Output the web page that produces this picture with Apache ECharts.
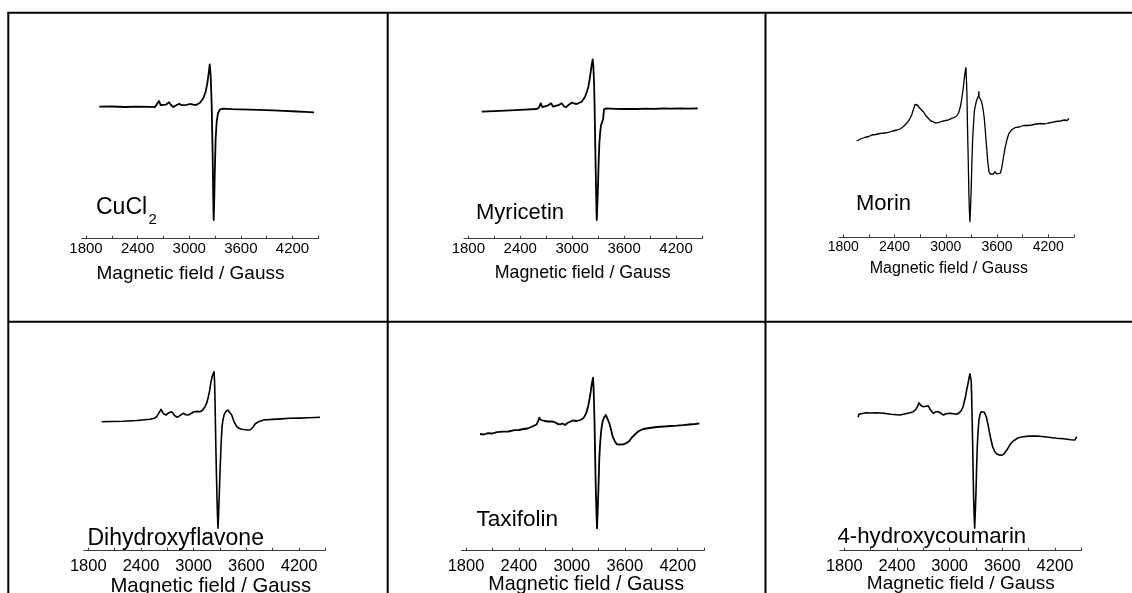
<!DOCTYPE html>
<html>
<head>
<meta charset="utf-8">
<title>EPR spectra of Cu(II) complexes</title>
<script src="https://cdn.jsdelivr.net/npm/echarts@6/dist/echarts.min.js"></script>
<style>
  html, body { margin: 0; padding: 0; background: #fff; }
  #chart { width: 1132px; height: 593px; }
</style>
</head>
<body>
<div id="chart"></div>
<script>
// Sample names, in panel order (left to right, top row first)
const sampleNames = ['CuCl2', 'Myricetin', 'Morin', 'Dihydroxyflavone', 'Taxifolin', '4-hydroxycoumarin'];

// Axis ticks (magnetic field, Gauss)
const tickLabels = [1800, 2400, 3000, 3600, 4200];
const tickMarks = [1800, 2100, 2400, 2700, 3000, 3300, 3600, 3900, 4200, 4500];
const axisTitle = 'Magnetic field / Gauss';

// First-derivative EPR spectra: [field (G), intensity (a.u.)]
const cucl2 = [
  [1955,0],[2100,0.2],[2250,-0.3],[2400,0],[2550,-0.2],[2602,-0.3],[2625,1.5],[2648,5.7],[2668,1.5],
  [2691,-0.3],[2728,2],[2765,4.4],[2790,1.5],[2815,-0.3],[2850,1.5],[2884,3],[2910,1.5],[2931,0.4],
  [2970,1.8],[3009,2.7],[3045,2],[3079,1.7],[3125,4],[3163,8.4],[3191,15],[3210,23.4],[3226,33.4],
  [3238,42.4],[3249,31.7],[3261,1.7],[3272,-48.3],[3279,-91.6],[3284,-113.3],[3291,-91.6],[3299,-58.3],
  [3307,-31.6],[3319,-15],[3334,-6.6],[3357,-2.6],[3396,-2],[3500,-2.5],[3590,-2.6],[3700,-3],
  [3800,-3.2],[3977,-3.6],[4100,-4.2],[4250,-4.8],[4350,-5.2],[4450,-5.6]
];

const myricetin = [
  [1955,0],[2100,0.5],[2282,1.4],[2450,2],[2590,2.7],[2615,4],[2637,8.4],[2655,4.5],[2675,3.4],
  [2715,6],[2756,8.4],[2780,5],[2802,4],[2840,6.5],[2879,8.4],[2905,5.5],[2929,4.4],[2960,7],
  [2995,9],[3025,8.2],[3053,7.7],[3085,9],[3110,10],[3130,12],[3149,15],[3170,20],[3187,25],
  [3203,33],[3214,40],[3226,47],[3237,52.4],[3245,45],[3253,28.4],[3259,5],[3264,-21.6],[3270,-50],
  [3276,-78.3],[3281,-100],[3284,-108.3],[3289,-98],[3294,-85],[3299,-71.6],[3306,-50],[3314,-31.6],
  [3324,-20],[3334,-13.3],[3345,-10.5],[3358,-7],[3364,-1],[3368,2.4],[3399,3.4],[3500,2.9],
  [3600,2.7],[3746,2.7],[3850,3],[3950,2.8],[4050,3.2],[4131,3],[4250,3.3],[4350,3.1],[4451,3.4]
];

const morin = [
  [1957,-1],[1962,0],[2000,1],[2050,2.5],[2100,3.5],[2132,5],[2180,5.5],[2230,6.5],[2280,7],
  [2327,7.7],[2380,9],[2430,10],[2464,11],[2505,13.5],[2542,16.7],[2575,20.5],[2601,25],[2615,29],
  [2628,32.3],[2640,35.5],[2651,36.7],[2665,35],[2686,33.3],[2705,31],[2720,29.5],[2737,28.3],
  [2765,24.5],[2795,21.7],[2825,19],[2854,18.3],[2880,17],[2912,17.3],[2950,18.5],[2991,19.3],
  [3030,20],[3069,21.7],[3100,22.5],[3128,24],[3150,27],[3166,31.7],[3180,37],[3193,45],[3205,52],
  [3217,61.7],[3228,69],[3236,72.3],[3242,60],[3248,45],[3254,15],[3260,-8.3],[3266,-33],[3271,-55],
  [3277,-72],[3283,-81.7],[3290,-68],[3298,-48.3],[3306,-22],[3315,1.7],[3324,15],[3334,28.3],
  [3348,35],[3362,40],[3375,42],[3383,44],[3387,48.3],[3391,43],[3400,41.5],[3420,38.3],[3436,31],
  [3451,21.7],[3465,7],[3479,-8.3],[3492,-22],[3506,-31.7],[3520,-34],[3537,-35],[3560,-34],
  [3573,-31.7],[3584,-32.5],[3600,-34],[3623,-35],[3640,-33],[3654,-28.3],[3672,-19],[3693,-8.3],
  [3715,0],[3740,6.7],[3775,10.5],[3810,12.3],[3860,13],[3910,14.5],[3960,14.5],[4006,15],
  [4060,16],[4110,16.5],[4160,16],[4200,17],[4240,17.7],[4290,18.5],[4340,19],[4390,20],[4420,19.5],
  [4442,21.7]
];

const dihydroxyflavone = [
  [1953,0],[2050,0.2],[2199,0.4],[2350,1.2],[2503,2.4],[2550,3.5],[2579,5],[2600,8],[2628,12.4],
  [2655,8],[2685,6.7],[2718,9],[2750,10],[2785,6],[2814,4.4],[2850,6.5],[2882,8.4],[2910,7],
  [2939,6.7],[2975,8.5],[3004,10],[3040,10.3],[3072,10],[3100,11.5],[3129,15],[3150,19],[3167,25],
  [3182,31],[3197,40],[3215,46.5],[3232,50],[3238,40],[3243,21.7],[3248,-3],[3254,-31.6],[3260,-55],
  [3266,-78.3],[3272,-95],[3277,-106.6],[3284,-92],[3292,-71.6],[3300,-50],[3308,-31.6],[3315,-17],
  [3323,-5],[3334,2],[3346,6.7],[3365,10],[3388,11.7],[3410,10],[3433,6.7],[3460,0],[3490,-5],
  [3520,-6.8],[3547,-7.6],[3590,-8],[3622,-8.3],[3645,-8],[3661,-7.6],[3680,-5],[3699,-2.3],
  [3740,0],[3793,1.7],[3900,2.3],[4000,2.8],[4097,3.4],[4200,3.6],[4300,3.9],[4380,4.2],[4439,4.4]
];

const taxifolin = [
  [1959,0],[2000,-0.5],[2050,0.8],[2100,0.5],[2150,1.8],[2223,2.3],[2280,2.5],[2350,3.8],[2400,4],
  [2450,5],[2500,5.5],[2563,8],[2600,9.5],[2618,13],[2631,16.3],[2650,14],[2670,14],[2690,13],
  [2707,15],[2730,12.5],[2752,11.7],[2780,12.5],[2809,11.7],[2840,10],[2866,9.7],[2895,10.5],
  [2922,9],[2950,11],[2971,13],[3010,13.5],[3055,13],[3095,14],[3130,15.7],[3150,18.5],[3168,22.3],
  [3185,28],[3198,34],[3210,40],[3221,47.3],[3232,53],[3240,56.3],[3246,46],[3251,32.3],[3257,10],
  [3263,-17.7],[3268,-42],[3274,-64.3],[3280,-82],[3285,-94.3],[3292,-78],[3300,-57.7],[3306,-40],
  [3311,-24.3],[3320,-10],[3331,2.3],[3340,8],[3350,13],[3365,16.5],[3384,19],[3400,16],[3425,10.7],
  [3445,4],[3463,-2.7],[3485,-7],[3509,-10.3],[3540,-10.5],[3583,-10.3],[3620,-9],[3651,-7],
  [3680,-3.5],[3716,-0.3],[3760,3],[3810,5],[3880,6],[3962,7],[4050,7.5],[4120,8],[4189,8.3],
  [4260,8.8],[4330,9.5],[4400,10],[4445,10.7]
];

const hydroxycoumarin = [
  [1959,-4],[1965,-1],[1979,0],[2050,0.5],[2100,0.3],[2169,0.6],[2250,0],[2330,-1],[2434,-1.7],
  [2500,-0.5],[2550,0.5],[2586,1.6],[2615,4],[2635,7],[2651,10.6],[2670,8],[2700,6.6],[2730,7],
  [2757,7.3],[2785,3],[2814,0],[2840,1.5],[2871,1.6],[2900,0],[2928,-1.7],[2960,-0.5],[3004,0],
  [3040,-0.5],[3080,-1],[3110,0.5],[3137,3.3],[3155,7],[3167,11.6],[3180,16],[3194,23.3],[3208,29],
  [3220,35],[3232,39.5],[3240,40.6],[3246,32],[3251,16.6],[3257,-8],[3263,-33.4],[3268,-60],
  [3274,-86.7],[3280,-103],[3285,-115],[3292,-100],[3300,-80],[3307,-56],[3315,-33.4],[3324,-18],
  [3334,-6.7],[3345,-1.5],[3360,1.5],[3377,2.6],[3395,1],[3410,-2],[3422,-5],[3437,-11],[3452,-18.4],
  [3470,-26],[3490,-33.4],[3512,-38],[3536,-40.7],[3570,-41.8],[3604,-41.7],[3630,-39.5],[3657,-36],
  [3690,-31],[3725,-27.7],[3780,-24.5],[3839,-23.4],[3900,-22.8],[3992,-22.7],[4080,-23.5],
  [4150,-24.2],[4219,-25],[4300,-25.5],[4380,-26.4],[4428,-26.7],[4440,-25.5],[4447,-23.4]
];

const spectra = [cucl2, myricetin, morin, dihydroxyflavone, taxifolin, hydroxycoumarin];

// Panel placement inside the 2 x 3 table
const FIELD_MIN = 1750, FIELD_MAX = 4500, PLOT_H = 220;
const panels = [
  { left: 81.7,  width: 236.6, axisY: 238.7, yMin: -132,   tick: 15,   gap: 3,   tx: 190.5, ty: 273.3, ts: 19,   lx: 96,  ly: 207.5, ls: 23, lw: 1.8 },
  { left: 464.0, width: 238.0, axisY: 238.7, yMin: -127,   tick: 15,   gap: 3,   tx: 582.7, ty: 273.0, ts: 17.8, lx: 476, ly: 212.8, ls: 22, lw: 1.8 },
  { left: 839.0, width: 234.9, axisY: 237.3, yMin: -97.3,  tick: 14,   gap: 2.4, tx: 948.8, ty: 268.3, ts: 16,   lx: 856, ly: 204.3, ls: 22, lw: 1.3 },
  { left: 83.9,  width: 241.5, axisY: 550.7, yMin: -129,   tick: 16.5, gap: 7.5, tx: 210.8, ty: 586.5, ts: 20.3, lx: 87.5, ly: 538.3, ls: 23, lw: 1.6 },
  { left: 461.6, width: 242.6, axisY: 550.7, yMin: -116.7, tick: 16.5, gap: 7.5, tx: 586.2, ty: 584.5, ts: 19.8, lx: 476.5, ly: 519.7, ls: 22.6, lw: 1.8 },
  { left: 839.9, width: 241.4, axisY: 550.7, yMin: -137.4, tick: 16.5, gap: 7.5, tx: 960.8, ty: 583.5, ts: 19,   lx: 837.5, ly: 537.2, ls: 22.2, lw: 1.6 }
];

const FONT = '"Liberation Sans", Arial, Helvetica, sans-serif';

const grid = [], xAxis = [], yAxis = [], series = [], graphic = [];

panels.forEach((p, i) => {
  grid.push({ left: p.left, top: p.axisY - PLOT_H, width: p.width, height: PLOT_H, containLabel: false });
  xAxis.push({
    type: 'value', gridIndex: i, min: FIELD_MIN, max: FIELD_MAX, position: 'bottom',
    axisLine: { show: true, onZero: false, lineStyle: { color: '#3a3a3a', width: 1 } },
    axisTick: { show: true, inside: true, length: 3, customValues: tickMarks, lineStyle: { color: '#3a3a3a', width: 1 } },
    axisLabel: {
      show: true, customValues: tickLabels, margin: p.gap,
      formatter: (v) => String(v),
      color: '#000', fontSize: p.tick, fontFamily: FONT
    },
    splitLine: { show: false }
  });
  yAxis.push({ type: 'value', gridIndex: i, min: p.yMin, max: p.yMin + PLOT_H, show: false });
  series.push({
    name: sampleNames[i], type: 'line', xAxisIndex: i, yAxisIndex: i,
    data: spectra[i], showSymbol: false, symbol: 'none', smooth: false,
    lineStyle: { color: '#000', width: p.lw, join: 'round' }, silent: true
  });
  // axis title
  graphic.push({
    type: 'text', x: p.tx, y: p.ty, silent: true,
    style: { text: axisTitle, fill: '#000', font: `${p.ts}px ${FONT}`, align: 'center', verticalAlign: 'middle' }
  });
});

// Sample labels
panels.forEach((p, i) => {
  const label = i === 0 ? 'CuCl' : sampleNames[i];
  graphic.push({
    type: 'text', x: p.lx, y: p.ly, silent: true,
    style: { text: label, fill: '#000', font: `${p.ls}px ${FONT}`, align: 'left', verticalAlign: 'middle' }
  });
});
// subscript of CuCl2
graphic.push({
  type: 'text', x: 148.5, y: 219.5, silent: true,
  style: { text: '2', fill: '#000', font: `15px ${FONT}`, align: 'left', verticalAlign: 'middle' }
});

// Table rules
const rule = (x1, y1, x2, y2) => ({
  type: 'line', silent: true,
  shape: { x1, y1, x2, y2 },
  style: { stroke: '#000', lineWidth: 2 }
});
graphic.push(rule(7.3, 12.7, 1132, 12.7));
graphic.push(rule(8.3, 12.7, 8.3, 593));
graphic.push(rule(387.7, 12.7, 387.7, 593));
graphic.push(rule(765.5, 12.7, 765.5, 593));
graphic.push(rule(8.3, 321.7, 1132, 321.7));

const chart = echarts.init(document.getElementById('chart'), null, { renderer: 'canvas' });
chart.setOption({
  backgroundColor: '#fff',
  animation: false,
  grid, xAxis, yAxis, series,
  graphic: { elements: graphic }
});
</script>
</body>
</html>
